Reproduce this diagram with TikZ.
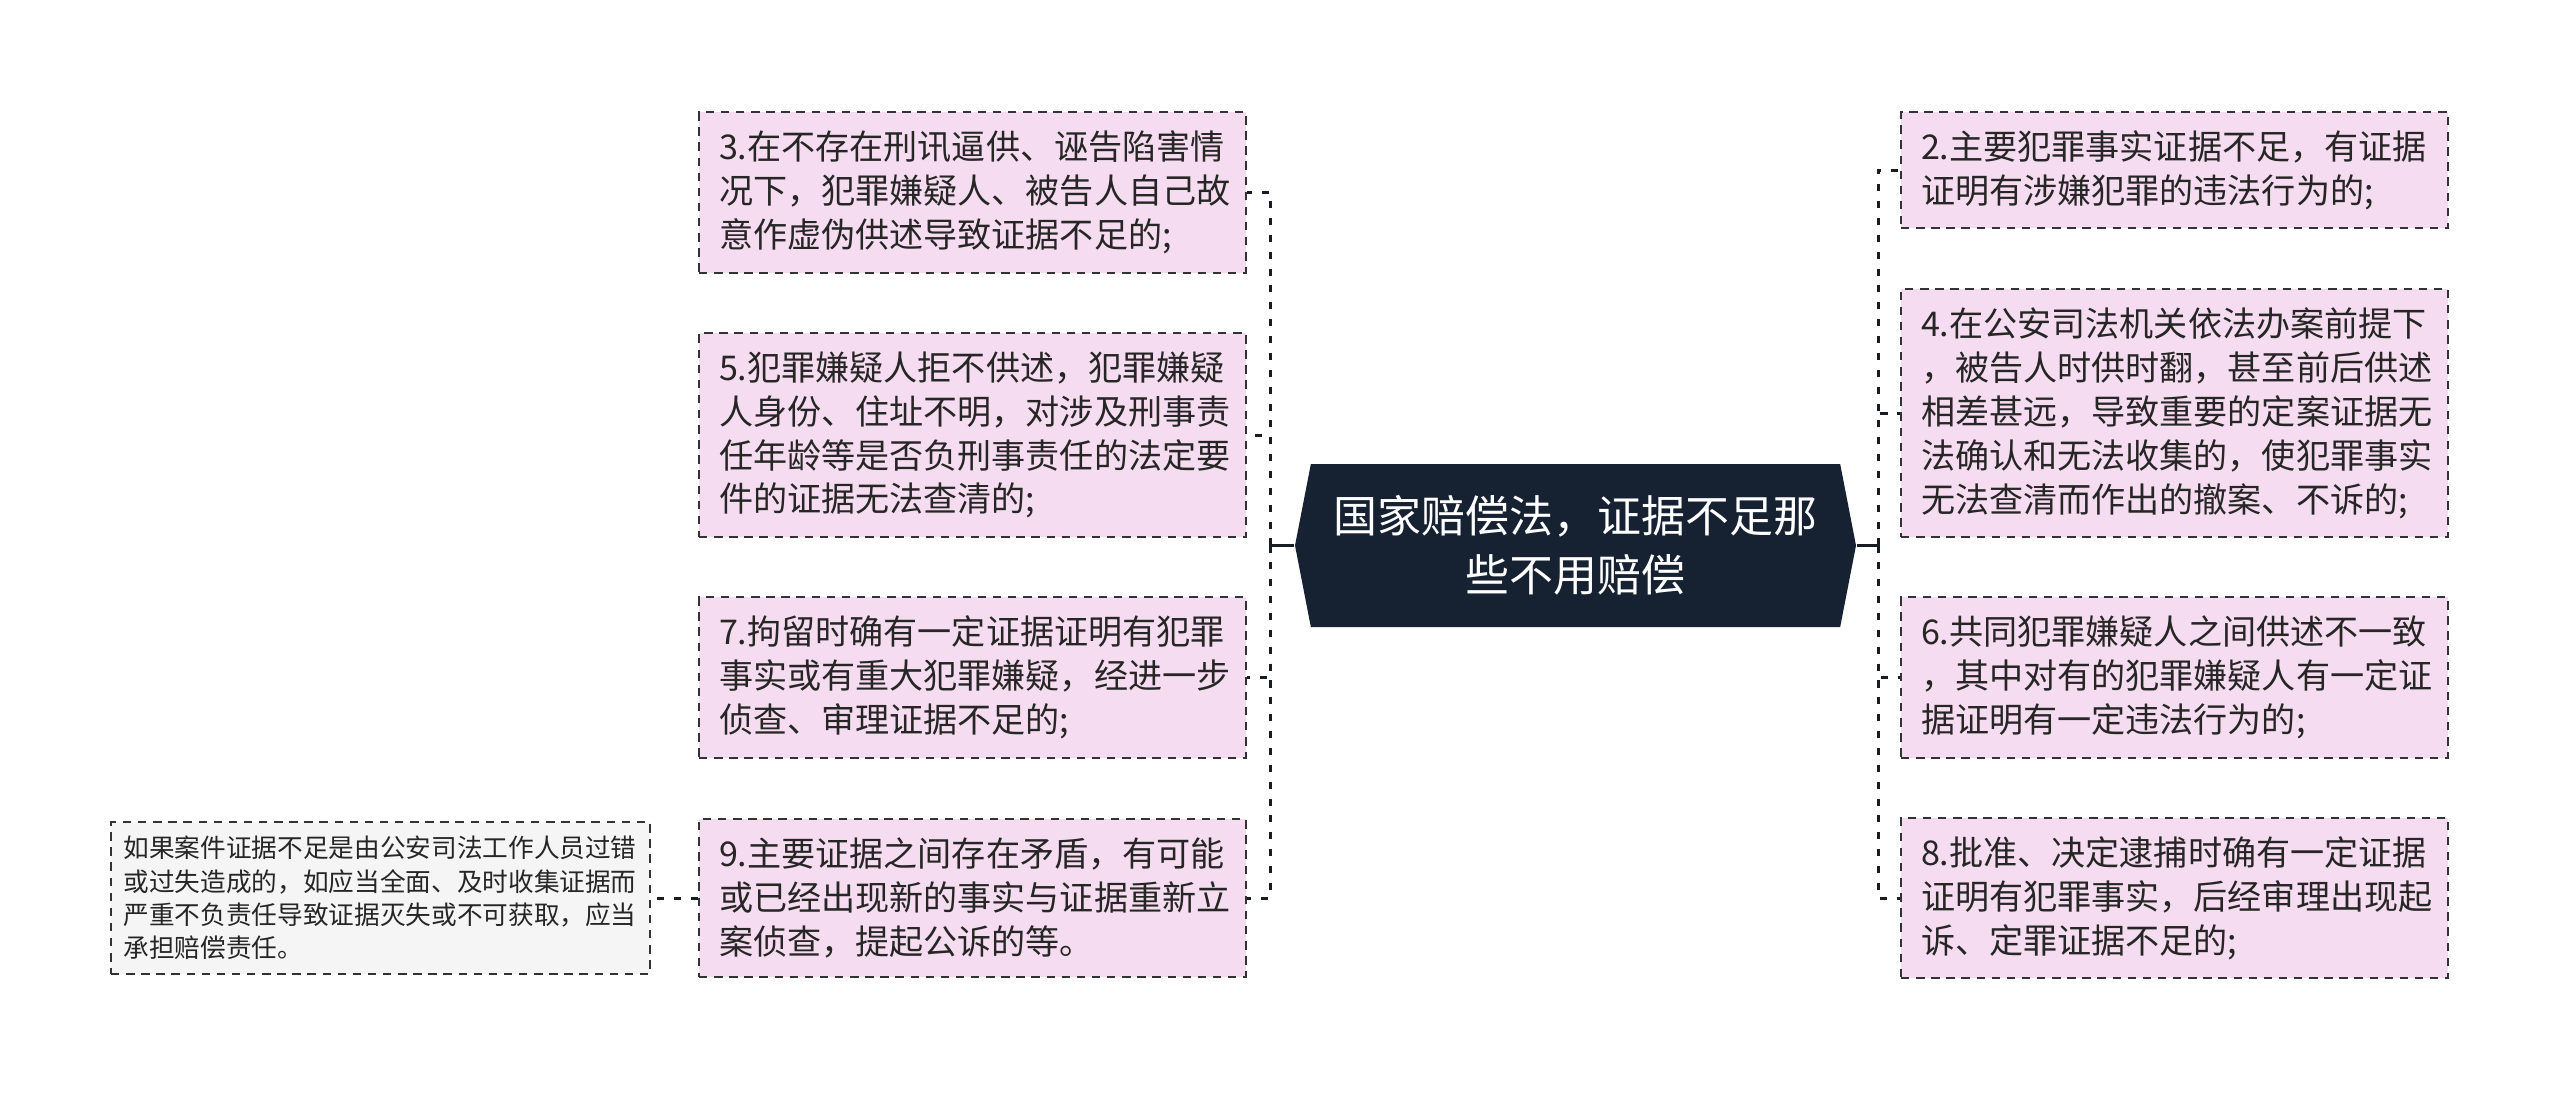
\documentclass[tikz,border=0pt]{standalone}
\usepackage{fontspec}
\setmainfont{Noto Sans CJK SC}
\usepackage{xcolor}
\usetikzlibrary{shapes.symbols}

\definecolor{rootnavy}{RGB}{22,33,49}
\definecolor{leafpink}{RGB}{246,220,240}
\definecolor{notegray}{RGB}{245,245,245}
\definecolor{linkdark}{RGB}{24,28,36}

\tikzset{
  rootnode/.style={shape=signal, signal to=west and east, signal pointer angle=158,
    fill=rootnavy, text=white, align=center, minimum width=5.61cm, minimum height=1.63cm,
    inner sep=0pt, font=\fontsize{12.5}{16.8}\selectfont},
  leafnode/.style={draw=black!80, fill=leafpink, line width=0.55pt, dash pattern=on 2.4pt off 1.9pt,
    text=black!85, align=left, text width=5.07cm, inner xsep=0.2cm, inner ysep=5.3pt,
    font=\fontsize{9.7}{12.5}\selectfont},
  notenode/.style={draw=black!80, fill=notegray, line width=0.55pt, dash pattern=on 2.4pt off 1.9pt,
    text=black!85, align=left, text width=5.14cm, inner xsep=0.125cm, inner ysep=3.9pt,
    font=\fontsize{7.3}{9.5}\selectfont},
  trunk/.style={draw=linkdark, line width=0.7pt},
  link/.style={draw=linkdark, line width=0.85pt, dash pattern=on 2pt off 2.8pt},
}

\begin{document}
\begin{tikzpicture}
    \useasboundingbox (0,0) rectangle (25.60,-10.93);

    % Central topic
    \node[rootnode] (root) at (15.755,-5.455) {国家赔偿法，证据不足那\\些不用赔偿};

    % Left branch
    \node[leafnode] (n3) at (9.725,-1.925) {3.在不存在刑讯逼供、诬告陷害情\\况下，犯罪嫌疑人、被告人自己故\\意作虚伪供述导致证据不足的;};
    \node[leafnode] (n5) at (9.725,-4.35) {5.犯罪嫌疑人拒不供述，犯罪嫌疑\\人身份、住址不明，对涉及刑事责\\任年龄等是否负刑事责任的法定要\\件的证据无法查清的;};
    \node[leafnode] (n7) at (9.725,-6.775) {7.拘留时确有一定证据证明有犯罪\\事实或有重大犯罪嫌疑，经进一步\\侦查、审理证据不足的;};
    \node[leafnode] (n9) at (9.725,-8.98) {9.主要证据之间存在矛盾，有可能\\或已经出现新的事实与证据重新立\\案侦查，提起公诉的等。};

    % Note beside item 9
    \node[notenode] (note) at (3.805,-8.98) {如果案件证据不足是由公安司法工作人员过错\\或过失造成的，如应当全面、及时收集证据而\\严重不负责任导致证据灭失或不可获取，应当\\承担赔偿责任。};

    % Right branch
    \node[leafnode] (n2) at (21.745,-1.70) {2.主要犯罪事实证据不足，有证据\\证明有涉嫌犯罪的违法行为的;};
    \node[leafnode] (n4) at (21.745,-4.13) {4.在公安司法机关依法办案前提下\\，被告人时供时翻，甚至前后供述\\相差甚远，导致重要的定案证据无\\法确认和无法收集的，使犯罪事实\\无法查清而作出的撤案、不诉的;};
    \node[leafnode] (n6) at (21.745,-6.775) {6.共同犯罪嫌疑人之间供述不一致\\，其中对有的犯罪嫌疑人有一定证\\据证明有一定违法行为的;};
    \node[leafnode] (n8) at (21.745,-8.98) {8.批准、决定逮捕时确有一定证据\\证明有犯罪事实，后经审理出现起\\诉、定罪证据不足的;};

    % Bus points
    \coordinate (lbus) at (12.70,-5.455);
    \coordinate (rbus) at (18.78,-5.455);

    % Connectors
    \draw[trunk] (root.west) -- (lbus);
    \draw[trunk] (root.east) -- (rbus);
    \foreach \n in {n3,n5,n7,n9}
        \draw[link] (lbus) |- (\n.east);
    \foreach \n in {n2,n4,n6,n8}
        \draw[link] (rbus) |- (\n.west);
    \draw[link] (n9.west) -- (note.east);

\end{tikzpicture}
\end{document}
